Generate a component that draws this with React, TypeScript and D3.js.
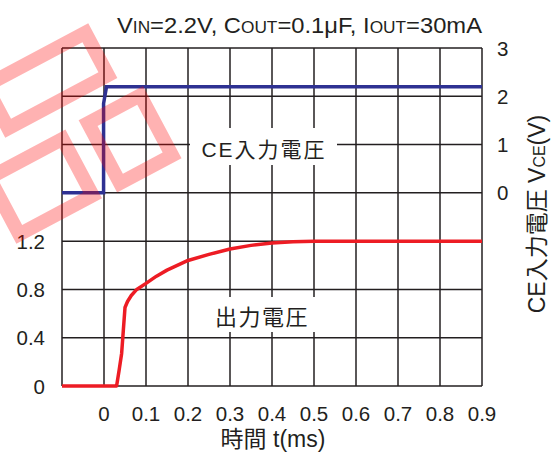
import React from "react";
import * as d3 from "d3";

const xTicks = [0, 0.1, 0.2, 0.3, 0.4, 0.5, 0.6, 0.7, 0.8, 0.9];
const xTickLabels = ["0", "0.1", "0.2", "0.3", "0.4", "0.5", "0.6", "0.7", "0.8", "0.9"];
const leftTicks = [0, 0.4, 0.8, 1.2];
const leftTickLabels = ["0", "0.4", "0.8", "1.2"];
const rightTicks = [0, 1, 2, 3];
const rightTickLabels = ["0", "1", "2", "3"];

// CE input voltage (right axis, V)
const ceTime = [-0.1, -0.001, -0.001, 0.006, 0.9];
const ceVolt = [0, 0, 1.85, 2.2, 2.2];

// Output voltage (left axis, V)
const outTime = [-0.1, 0.03, 0.036, 0.042, 0.046, 0.05, 0.056, 0.065, 0.078, 0.1, 0.125, 0.15, 0.2, 0.25, 0.3, 0.35, 0.4, 0.45, 0.5, 0.9];
const outVolt = [0, 0, 0.13, 0.27, 0.46, 0.65, 0.7, 0.75, 0.8, 0.85, 0.91, 0.96, 1.04, 1.09, 1.135, 1.165, 1.185, 1.195, 1.2, 1.2];

const FONT = "'Liberation Sans', Arial, 'Noto Sans CJK JP', sans-serif";
const INK = "#231f20";

export default function App() {
  const L = 62, R = 482, T = 48, B = 386;
  const rowH = (B - T) / 7;
  const x = d3.scaleLinear().domain([-0.1, 0.9]).range([L, R]);
  const yR = d3.scaleLinear().domain([0, 3]).range([T + 3 * rowH, T]);
  const yL = d3.scaleLinear().domain([0, 1.2]).range([B, B - 3 * rowH]);

  const ceLine = d3.line<number>().x((d, i) => x(ceTime[i])).y((d) => yR(d));
  const outLine = d3.line<number>().x((d, i) => x(outTime[i])).y((d) => yL(d));

  const vGrid = d3.range(0, 11).map((i) => L + (i * (R - L)) / 10);
  const hGrid = d3.range(0, 8).map((i) => T + i * rowH);

  return (
    <svg width={554} height={457} style={{ position: "absolute", left: 0, top: 0, background: "#fff" }} fontFamily={FONT}>
      <rect width={554} height={457} fill="#fff" />
      {vGrid.map((gx, i) => (
        <line key={"v" + i} x1={gx} x2={gx} y1={T} y2={B} stroke={INK} strokeWidth={1.5} />
      ))}
      {hGrid.map((gy, i) => (
        <line key={"h" + i} x1={L} x2={R} y1={gy} y2={gy} stroke={INK} strokeWidth={1.5} />
      ))}
      {/* label masks */}
      <rect x={190} y={128} width={147} height={37} fill="#fff" />
      <rect x={205} y={297} width={120} height={35} fill="#fff" />

      <path d={ceLine(ceVolt) || ""} fill="none" stroke="#2e3192" strokeWidth={3.5} strokeLinejoin="miter" />
      <path d={outLine(outVolt) || ""} fill="none" stroke="#ed1c24" strokeWidth={3.5} strokeLinejoin="round" />

      <text x={264} y={157} fontSize={21} fill={INK} textAnchor="middle" letterSpacing={2}>CE入力電圧</text>
      <text x={262} y={325} fontSize={22} fill={INK} textAnchor="middle" letterSpacing={1.5}>出力電圧</text>

      {/* title */}
      <text x={117} y={33} fontSize={22} fill={INK} textLength={365} lengthAdjust="spacingAndGlyphs">
        V<tspan fontSize={16}>IN</tspan>=2.2V, C<tspan fontSize={16}>OUT</tspan>=0.1μF, I<tspan fontSize={16}>OUT</tspan>=30mA
      </text>

      {xTicks.map((t, i) => (
        <text key={"xt" + i} x={x(t)} y={421} fontSize={20.5} fill={INK} textAnchor="middle">{xTickLabels[i]}</text>
      ))}
      {leftTicks.map((t, i) => (
        <text key={"lt" + i} x={45} y={yL(t) + 7.5} fontSize={20.5} fill={INK} textAnchor="end">{leftTickLabels[i]}</text>
      ))}
      {rightTicks.map((t, i) => (
        <text key={"rt" + i} x={497} y={yR(t) + 7.5} fontSize={20.5} fill={INK} textAnchor="start">{rightTickLabels[i]}</text>
      ))}
      <text x={273} y={447} fontSize={23} fill={INK} textAnchor="middle">時間 t(ms)</text>
      <text transform="translate(545,214) rotate(-90)" fontSize={23} fill={INK} textAnchor="middle">
        CE入力電圧 V<tspan fontSize={16}>CE</tspan>(V)
      </text>

      {/* watermark */}
      <g transform="rotate(-28)" fill="none" stroke="#ff0000" strokeOpacity={0.3} strokeWidth={14}>
        <rect x={-53} y={69} width={113} height={48} />
        <rect x={-93} y={152} width={83} height={64} />
        <rect x={20} y={150} width={59} height={68} />
      </g>
    </svg>
  );
}
